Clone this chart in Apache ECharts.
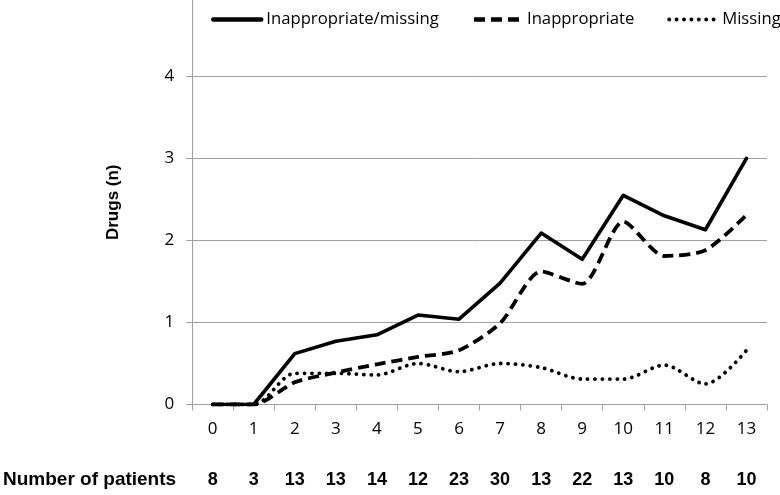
<!DOCTYPE html>
<html>
<head>
<meta charset="utf-8">
<script src="https://cdn.jsdelivr.net/npm/echarts@6/dist/echarts.min.js"></script>
<style>html,body{margin:0;padding:0;background:#fff}#c{width:780px;height:495px}</style>
</head>
<body>
<div id="c"></div>
<script>
const categories = ['0','1','2','3','4','5','6','7','8','9','10','11','12','13'];
const patients = ['8','3','13','13','14','12','23','30','13','22','13','10','8','10'];
const inappropriateMissing = [0, 0, 0.62, 0.77, 0.85, 1.09, 1.04, 1.48, 2.09, 1.77, 2.55, 2.30, 2.13, 3.00];
const inappropriate = [0, 0, 0.27, 0.39, 0.49, 0.58, 0.66, 0.99, 1.62, 1.47, 2.23, 1.81, 1.88, 2.31];
const missing = [0, 0, 0.38, 0.38, 0.36, 0.50, 0.40, 0.50, 0.45, 0.31, 0.31, 0.48, 0.25, 0.66];
const yTicks = [0, 1, 2, 3, 4];

const FONT = 'Open Sans';
const chart = echarts.init(document.getElementById('c'), null, {renderer: 'canvas'});
chart.setOption({
  animation: false,
  backgroundColor: '#fff',
  grid: {left: 190, right: 13, top: 0, bottom: 90.5, containLabel: false},
  legend: {
    left: 206, top: 6, width: 1000, padding: 5, itemWidth: 48, itemHeight: 14, itemGap: 33,
    itemStyle: {opacity: 0},
    textStyle: {fontFamily: FONT, fontSize: 16.7, color: '#000'},
    data: [
      {name: 'Inappropriate/missing', lineStyle: {width: 4.5}},
      {name: 'Inappropriate', lineStyle: {width: 4.5}},
      {name: 'Missing', lineStyle: {width: 3.8}}
    ]
  },
  xAxis: [{
    type: 'category', data: categories, boundaryGap: true,
    axisLine: {lineStyle: {color: '#a0a0a0', width: 1}},
    axisTick: {show: true, length: 6, lineStyle: {color: '#a0a0a0'}},
    axisLabel: {fontFamily: FONT, fontSize: 17, color: '#000', margin: 16.5},
    splitLine: {show: false}
  }, {
    type: 'category', data: categories, position: 'bottom', offset: 75.5,
    axisLine: {show: false}, axisTick: {show: false},
    axisLabel: {fontFamily: 'Liberation Sans', fontWeight: 'bold', fontSize: 18, color: '#000',
      margin: 0, verticalAlign: 'middle', formatter: (v, i) => patients[i]},
    name: 'Number of patients', nameLocation: 'start', nameGap: 16,
    nameTextStyle: {fontFamily: 'Liberation Sans', fontWeight: 'bold', fontSize: 19, color: '#000', verticalAlign: 'middle'}
  }],
  yAxis: {
    type: 'value', min: 0, max: 4.93, interval: 1,
    axisLine: {show: true, lineStyle: {color: '#a0a0a0', width: 1}},
    axisTick: {show: true, length: 6, lineStyle: {color: '#a0a0a0'}},
    axisLabel: {fontFamily: FONT, fontSize: 17, color: '#000', margin: 18, showMaxLabel: false,
      formatter: v => yTicks.indexOf(v) >= 0 ? String(v) : ''},
    splitLine: {show: true, showMaxLine: false, lineStyle: {color: '#a0a0a0', width: 1}},
    name: 'Drugs (n)', nameLocation: 'middle', nameRotate: 90, nameGap: 70,
    nameTextStyle: {fontFamily: 'Liberation Sans', fontWeight: 'bold', fontSize: 17, color: '#000'}
  },
  series: [{
    name: 'Inappropriate/missing', type: 'line', data: inappropriateMissing, xAxisIndex: 0,
    symbol: 'none', smooth: false, color: '#000',
    lineStyle: {color: '#000', width: 3.6, type: 'solid', cap: 'round', join: 'round'}, z: 3
  }, {
    name: 'Inappropriate', type: 'line', data: inappropriate, xAxisIndex: 0,
    symbol: 'none', smooth: 0.25, color: '#000',
    lineStyle: {color: '#000', width: 3.8, type: [11, 6], cap: 'butt'}, z: 2
  }, {
    name: 'Missing', type: 'line', data: missing, xAxisIndex: 0,
    symbol: 'none', smooth: 0.3, color: '#000',
    lineStyle: {color: '#000', width: 3.8, type: [0.1, 7.3], cap: 'round'}, z: 1
  }]
});
</script>
</body>
</html>
